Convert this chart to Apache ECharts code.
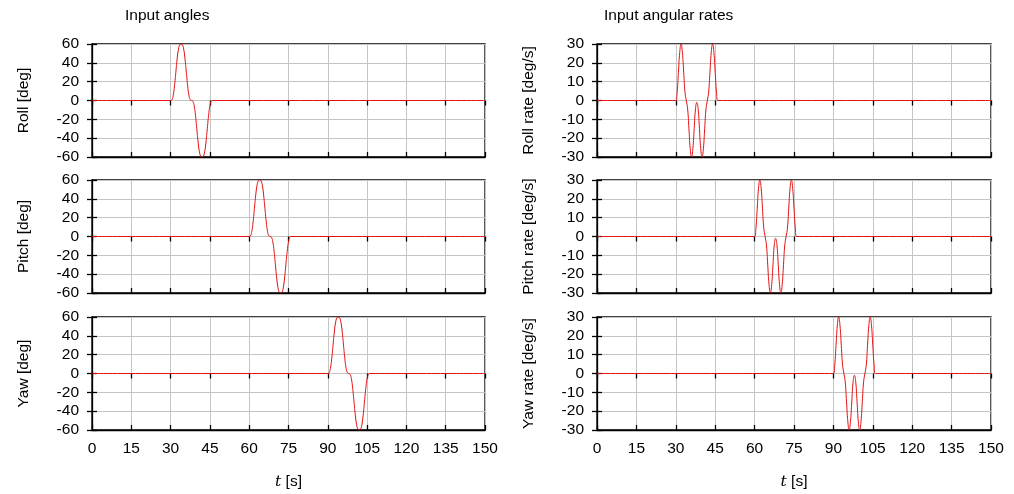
<!DOCTYPE html>
<html>
<head>
<meta charset="utf-8">
<script src="https://cdn.jsdelivr.net/npm/echarts@6/dist/echarts.min.js"></script>
<style>html,body{margin:0;padding:0;background:#fff}#c{width:1014px;height:494px}</style>
</head>
<body>
<div id="c"></div>
<script>
// ---- data ----
const xTicks = [0, 15, 30, 45, 60, 75, 90, 105, 120, 135, 150];
const angleTicks = [-60, -40, -20, 0, 20, 40, 60];
const rateTicks = [-30, -20, -10, 0, 10, 20, 30];
const rowNames = ['Roll', 'Pitch', 'Yaw'];
const pulseStarts = [30, 60, 90];           // s, start of each manoeuvre
const pulseOffsets = [0,0.5,1,1.5,2,2.5,3,3.5,4,4.5,5,5.5,6,6.5,7,7.5,8,8.5,9,9.5,10,10.5,11,11.5,12,12.5,13,13.5,14,14.5,15,15.5,16];
const angleProfile = [0,0.8,5.5,15.8,30,44.2,54.5,59.2,60,59.2,54.5,44.2,30,15.8,5.5,0.8,0,-0.8,-5.5,-15.8,-30,-44.2,-54.5,-59.2,-60,-59.2,-54.5,-44.2,-30,-15.8,-5.5,-0.8,0];
const rateProfile = [0,4.4,15,25.6,30,25.6,15,4.4,0,-4.4,-15,-25.6,-30,-25.6,-15,-4.4,-1,-4.4,-15,-25.6,-30,-25.6,-15,-4.4,0,4.4,15,25.6,30,25.6,15,4.4,0];
const tStart = 0, tEnd = 150;

function buildSeries(start, profile) {
  const d = [[tStart, 0]];
  for (let i = 0; i < pulseOffsets.length; i++) d.push([start + pulseOffsets[i], profile[i]]);
  d.push([tEnd, 0]);
  return d;
}

const FONT = 'Liberation Sans';
const tops = [44, 180, 317];
const H = 113;
const cols = [{left: 92, width: 393}, {left: 597, width: 394}];

const grids = [], xAxes = [], yAxes = [], series = [];
let gi = 0;
for (let c = 0; c < 2; c++) {
  for (let r = 0; r < 3; r++) {
    grids.push({left: cols[c].left, width: cols[c].width, top: tops[r], height: H,
      show: true, borderColor: '#000', borderWidth: 1.3, backgroundColor: 'transparent'});
    const isBottom = r === 2;
    const ticks = c === 0 ? angleTicks : rateTicks;
    xAxes.push({type: 'value', gridIndex: gi, min: xTicks[0], max: xTicks[xTicks.length-1],
      interval: xTicks[1]-xTicks[0], position: 'bottom',
      axisLine: {show: true, onZero: false, lineStyle: {color: '#000', width: 1.3}},
      axisTick: {show: true, inside: true, length: 5, lineStyle: {color: '#000', width: 1.3}},
      splitLine: {show: true, lineStyle: {color: '#c4c4c4', width: 1}},
      axisLabel: {show: isBottom, fontFamily: FONT, fontSize: 15.5, color: '#000', margin: 11},
      name: isBottom ? '{i|t} [s]' : '', nameLocation: 'middle', nameGap: 44,
      nameTextStyle: {fontFamily: FONT, fontSize: 15.5, color: '#000',
        rich: {i: {fontFamily: 'DejaVu Serif', fontStyle: 'italic', fontSize: 15.5, color: '#000'}}}});
    xAxes.push({type: 'value', gridIndex: gi, min: xTicks[0], max: xTicks[xTicks.length-1],
      interval: xTicks[1]-xTicks[0], position: 'top',
      axisLine: {show: false}, axisLabel: {show: false}, splitLine: {show: false},
      axisTick: {show: true, inside: true, length: 5, lineStyle: {color: '#000', width: 1.3}}});
    const yName = c === 0 ? rowNames[r] + ' [deg]' : rowNames[r] + ' rate [deg/s]';
    yAxes.push({type: 'value', gridIndex: gi, min: ticks[0], max: ticks[ticks.length-1],
      interval: ticks[1]-ticks[0], position: 'left',
      axisLine: {show: true, onZero: false, lineStyle: {color: '#000', width: 1.3}},
      axisTick: {show: true, inside: true, length: 5, lineStyle: {color: '#000', width: 1.3}},
      splitLine: {show: true, lineStyle: {color: '#c4c4c4', width: 1}},
      axisLabel: {fontFamily: FONT, fontSize: 15.5, color: '#000', margin: 13},
      name: yName, nameLocation: 'middle', nameRotate: 90, nameGap: 60,
      nameTextStyle: {fontFamily: FONT, fontSize: 15.5, color: '#000'}});
    yAxes.push({type: 'value', gridIndex: gi, min: ticks[0], max: ticks[ticks.length-1],
      interval: ticks[1]-ticks[0], position: 'right',
      axisLine: {show: false}, axisLabel: {show: false}, splitLine: {show: false},
      axisTick: {show: true, inside: true, length: 5, lineStyle: {color: '#000', width: 1.3}}});
    series.push({type: 'line', xAxisIndex: 2*gi, yAxisIndex: 2*gi, showSymbol: false,
      smooth: 0.5, animation: false,
      lineStyle: {color: '#e31010', width: 1}, itemStyle: {color: '#e31010'},
      data: buildSeries(pulseStarts[r], c === 0 ? angleProfile : rateProfile)});
    gi++;
  }
}

const chart = echarts.init(document.getElementById('c'));
chart.setOption({
  animation: false,
  backgroundColor: '#fff',
  title: [
    {text: 'Input angles', left: 120, top: 3, textStyle: {fontFamily: FONT, fontSize: 15.5, fontWeight: 'normal', color: '#000'}},
    {text: 'Input angular rates', left: 599, top: 3, textStyle: {fontFamily: FONT, fontSize: 15.5, fontWeight: 'normal', color: '#000'}}
  ],
  grid: grids, xAxis: xAxes, yAxis: yAxes, series: series
});
</script>
</body>
</html>
